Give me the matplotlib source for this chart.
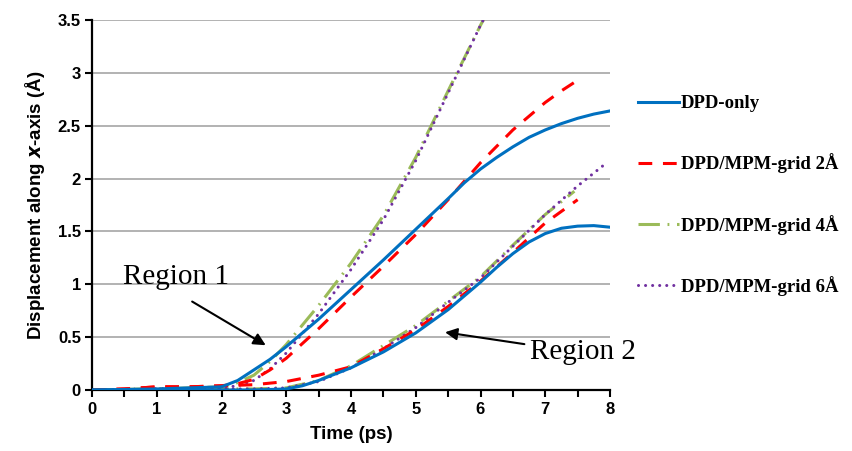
import matplotlib
matplotlib.use("Agg")
import matplotlib.pyplot as plt

# ---- data ----
t_dpd1 = [0, 0.5, 1, 1.5, 2, 2.25, 2.5, 2.75, 3, 3.5, 4, 4.5, 5, 5.5, 5.75, 6, 6.25, 6.5, 6.75, 7, 7.25, 7.5, 7.75, 8]
y_dpd1 = [0, 0.005, 0.01, 0.02, 0.03, 0.09, 0.19, 0.29, 0.41, 0.67, 0.95, 1.23, 1.52, 1.81, 1.96, 2.09, 2.20, 2.30, 2.39, 2.46, 2.52, 2.57, 2.61, 2.64]

t_g2_1 = [0, 0.5, 1, 1.5, 2, 2.25, 2.5, 2.75, 3, 3.5, 4, 4.5, 5, 5.5, 6, 6.5, 7, 7.25, 7.5]
y_g2_1 = [0, 0.01, 0.03, 0.03, 0.04, 0.06, 0.10, 0.19, 0.30, 0.58, 0.88, 1.17, 1.47, 1.80, 2.15, 2.46, 2.72, 2.83, 2.93]

t_g4_1 = [0, 0.5, 1, 1.5, 2, 2.25, 2.5, 2.75, 3, 3.5, 4, 4.5, 5, 5.5, 6, 6.2]
y_g4_1 = [0, 0.005, 0.01, 0.02, 0.03, 0.07, 0.14, 0.27, 0.43, 0.80, 1.20, 1.65, 2.20, 2.83, 3.45, 3.68]

t_g6_1 = [0, 0.5, 1, 1.5, 2, 2.25, 2.5, 2.75, 3, 3.5, 4, 4.5, 5, 5.5, 6, 6.2]
y_g6_1 = [0, 0.005, 0.01, 0.015, 0.02, 0.04, 0.09, 0.20, 0.35, 0.72, 1.14, 1.61, 2.17, 2.81, 3.45, 3.68]

t_dpd2 = [0, 1, 2, 2.5, 3, 3.25, 3.5, 4, 4.5, 5, 5.5, 6, 6.25, 6.5, 6.75, 7, 7.25, 7.5, 7.75, 8]
y_dpd2 = [0, 0.0, 0.0, 0.0, 0.01, 0.04, 0.09, 0.21, 0.36, 0.54, 0.76, 1.02, 1.16, 1.29, 1.40, 1.48, 1.53, 1.55, 1.555, 1.54]

t_g2_2 = [0, 0.5, 1, 1.5, 2, 2.5, 3, 3.5, 4, 4.5, 5, 5.5, 6, 6.5, 7, 7.5]
y_g2_2 = [0, 0.01, 0.03, 0.03, 0.04, 0.05, 0.08, 0.14, 0.22, 0.39, 0.57, 0.79, 1.03, 1.30, 1.58, 1.80]

t_g4_2 = [0, 1, 2, 2.5, 3, 3.5, 4, 4.5, 5, 5.5, 6, 6.5, 7, 7.45]
y_g4_2 = [0, 0.01, 0.01, 0.01, 0.02, 0.09, 0.23, 0.42, 0.61, 0.84, 1.07, 1.37, 1.66, 1.88]

t_g6_2 = [0, 1, 2, 2.5, 3, 3.5, 4, 4.5, 5, 5.5, 6, 6.5, 7, 7.5, 7.95]
y_g6_2 = [0, 0.01, 0.01, 0.01, 0.02, 0.08, 0.21, 0.39, 0.59, 0.83, 1.06, 1.36, 1.66, 1.93, 2.15]

labels = ["DPD-only", "DPD/MPM-grid 2Å", "DPD/MPM-grid 4Å", "DPD/MPM-grid 6Å"]
x_ticks = [0, 1, 2, 3, 4, 5, 6, 7, 8]
y_ticks = [0, 0.5, 1, 1.5, 2, 2.5, 3, 3.5]

# ---- styles ----
c_blue = "#0070C0"
c_red = "#FF0000"
c_green = "#9BBB59"
c_purple = "#7030A0"
lw = 2.2

fig = plt.figure(figsize=(8.53, 4.51), dpi=100)
ax = fig.add_axes([92/853, 61/451, 518/853, 370/451])

sty = {
    0: dict(color=c_blue, lw=lw, linestyle="-", zorder=3),
    1: dict(color=c_red, lw=lw, linestyle=(0, (4.5, 3.5)), zorder=2.5),
    2: dict(color=c_green, lw=lw, linestyle=(0, (7, 2.5, 0.6, 2.5)), zorder=2.2),
    3: dict(color=c_purple, lw=lw, linestyle=(0, (0.01, 2.3)), dash_capstyle="round", zorder=2.4),
}

handles = []
for i, (tx, ty) in enumerate([(t_dpd1, y_dpd1), (t_g2_1, y_g2_1), (t_g4_1, y_g4_1), (t_g6_1, y_g6_1)]):
    h, = ax.plot(tx, ty, label=labels[i], **sty[i])
    handles.append(h)
for i, (tx, ty) in enumerate([(t_dpd2, y_dpd2), (t_g2_2, y_g2_2), (t_g4_2, y_g4_2), (t_g6_2, y_g6_2)]):
    ax.plot(tx, ty, **sty[i])

ax.set_xlim(0, 8)
ax.set_ylim(0, 3.5)
ax.set_xticks(x_ticks)
ax.set_xticks([v + 0.5 for v in x_ticks[:-1]], minor=True)
ax.set_yticks(y_ticks)
ax.set_yticklabels([f"{v:g}" for v in y_ticks])
ax.yaxis.grid(True, color="#A6A6A6", lw=1.2)
ax.set_axisbelow(True)
for s in ["top", "right"]:
    ax.spines[s].set_visible(False)
for s in ["left", "bottom"]:
    ax.spines[s].set_linewidth(1.6)
ax.tick_params(axis="both", which="both", direction="out", width=1.5)
ax.tick_params(axis="x", which="major", length=5, pad=4)
ax.tick_params(axis="x", which="minor", length=5)
ax.tick_params(axis="y", length=5, pad=3)
for lab in ax.get_xticklabels() + ax.get_yticklabels():
    lab.set_fontfamily("Liberation Sans")
    lab.set_fontweight("bold")
    lab.set_fontsize(12)

ax.set_xlabel("Time (ps)", fontsize=13.5, fontweight="bold", family="Liberation Sans", labelpad=6)
plt.rcParams["mathtext.fontset"] = "custom"
plt.rcParams["mathtext.bfit"] = "Liberation Sans:bold:italic"
ax.set_ylabel(r"Displacement along $\mathbfit{x}$-axis (Å)", fontsize=13.5, fontweight="bold",
              family="Liberation Sans", labelpad=8)

# annotations
ax.annotate("", xy=(2.72, 0.41), xytext=(1.51, 0.85),
            arrowprops=dict(arrowstyle="-|>", color="black", lw=1.5, mutation_scale=18))
ax.text(0.48, 1.07, "Region 1", fontsize=21, family="Liberation Serif", va="center", ha="left")
ax.annotate("", xy=(5.41, 0.55), xytext=(6.72, 0.43),
            arrowprops=dict(arrowstyle="-|>", color="black", lw=1.5, mutation_scale=18))
ax.text(6.76, 0.36, "Region 2", fontsize=21, family="Liberation Serif", va="center", ha="left",
        clip_on=False)

leg = fig.legend(handles=handles, labels=labels, loc="upper left",
                 bbox_to_anchor=(638/853, 1 - 95/451), frameon=False,
                 prop=dict(family="Liberation Serif", weight="bold", size=13.5),
                 handlelength=2.2, handletextpad=0.1, labelspacing=2.2,
                 borderpad=0, borderaxespad=0)

fig.savefig("out.png", dpi=100)
